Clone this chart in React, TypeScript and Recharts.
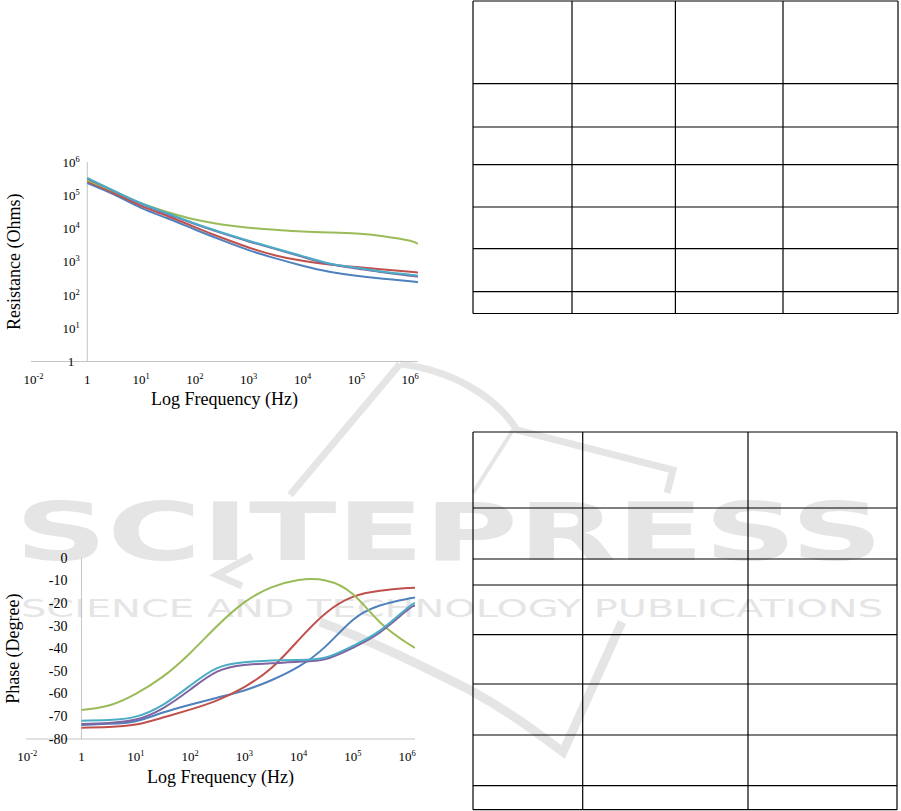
import React from "react";
import { LineChart, Line, XAxis, YAxis, ReferenceLine } from "recharts";

// frequency grid (Hz), half-decade steps
const FREQ_HZ = [1, 3.16, 10, 31.6, 100, 316, 1000, 3160, 10000, 31600, 100000, 316000, 1000000, 1400000];

// resistance (Ohms)
const RES_BLUE = [234000, 105000, 41700, 20000, 9330, 4470, 2240, 1260, 759, 501, 380, 309, 257, 240];
const RES_RED = [263000, 115000, 47900, 23400, 11000, 5250, 2690, 1550, 1070, 832, 692, 589, 501, 479];
const RES_GREEN = [282000, 129000, 57500, 30900, 18600, 13200, 10500, 9120, 8130, 7590, 7080, 5890, 4270, 3390];
const RES_PURPLE = [316000, 132000, 55000, 26900, 13500, 7240, 4070, 2400, 1410, 851, 631, 479, 380, 355];
const RES_CYAN = [331000, 135000, 57500, 28200, 14100, 7590, 4270, 2510, 1480, 891, 661, 501, 407, 380];

// phase (degree)
const PHASE_BLUE = [-73.8, -73.3, -72.1, -68.3, -64.8, -61.7, -58.5, -54, -48, -39, -27.3, -20.9, -18, -17.4];
const PHASE_RED = [-75, -74.7, -73.6, -70.5, -67, -62.9, -57, -48.6, -36.2, -24.3, -17.1, -14.4, -13.2, -13];
const PHASE_GREEN = [-67.2, -65.2, -60, -52.4, -42, -30, -19.5, -12.9, -9.6, -9.8, -15.8, -28.3, -37.5, -39.6];
const PHASE_PURPLE = [-73.4, -72.9, -71.4, -66.4, -58.2, -50.2, -47.2, -46.5, -45.8, -44.6, -39.6, -32.8, -23, -21];
const PHASE_CYAN = [-71.9, -71.6, -70.1, -64.9, -56.4, -48.6, -46, -45.2, -45, -43.9, -38.8, -32, -22.1, -19.9];

// axis ticks and their labels ([base, superscript])
const FREQ_TICKS = [0.1, 1, 10, 100, 1000, 10000, 100000, 1000000];
const FREQ_TICK_LABELS = [["10", "-2"], ["1", ""], ["10", "1"], ["10", "2"], ["10", "3"], ["10", "4"], ["10", "5"], ["10", "6"]];
const RES_TICKS = [1, 10, 100, 1000, 10000, 100000, 1000000];
const RES_TICK_LABELS = [["1", ""], ["10", "1"], ["10", "2"], ["10", "3"], ["10", "4"], ["10", "5"], ["10", "6"]];
const PHASE_TICKS = [0, -10, -20, -30, -40, -50, -60, -70, -80];

const SERIES = [
  { key: "blue", color: "#4F81BD" },
  { key: "red", color: "#C0504D" },
  { key: "green", color: "#9BBB59" },
  { key: "purple", color: "#8064A2" },
  { key: "cyan", color: "#4BACC6" },
];

// empty tables on the right
const T1_COL_WIDTHS = [99, 103.4, 107.6, 115];
const T1_ROW_HEIGHTS = [82.6, 43.4, 37.6, 42.4, 41.6, 43, 22];
const T2_COL_WIDTHS = [109.7, 165.3, 149];
const T2_ROW_HEIGHTS = [76, 51, 26, 49.7, 49.3, 51, 50.7, 24];

const SERIF = "'Liberation Serif', 'Times New Roman', serif";
const AXIS_GRAY = "#C4C4C4";
const MARK_GRAY = "#E5E5E5";

const SupText = ({ x, y, anchor, size, label }: any) => (
  <text x={x} y={y} textAnchor={anchor} fontFamily={SERIF} fontSize={size} fill="#000">
    <tspan>{label[0]}</tspan>
    {label[1] ? (
      <tspan fontSize={size * 0.65} dy={-size * 0.38}>
        {label[1]}
      </tspan>
    ) : null}
  </text>
);

const FreqTick = (props: any) => {
  const { x, y, payload } = props;
  const i = FREQ_TICKS.indexOf(payload.value);
  if (i < 0) return null;
  return <SupText x={x} y={y + 22} anchor="middle" size={13} label={FREQ_TICK_LABELS[i]} />;
};

const ResTick = (props: any) => {
  const { y, payload, labelX } = props;
  const i = RES_TICKS.indexOf(payload.value);
  if (i < 0) return null;
  return <SupText x={labelX} y={y + 4.5} anchor="middle" size={13} label={RES_TICK_LABELS[i]} />;
};

const PhaseTick = (props: any) => {
  const { y, payload, labelX } = props;
  return (
    <text x={labelX} y={y + 4.5} textAnchor="end" fontFamily={SERIF} fontSize={14} fill="#000">
      {payload.value}
    </text>
  );
};

const XTitle = ({ viewBox, dy }: any) => (
  <text x={viewBox.x + viewBox.width / 2} y={viewBox.y + dy} textAnchor="middle" fontFamily={SERIF} fontSize={18} fill="#000">
    Log Frequency (Hz)
  </text>
);

const YTitle = ({ viewBox, text, bx }: any) => {
  const cy = viewBox.y + viewBox.height / 2;
  return (
    <text x={bx} y={cy} transform={`rotate(-90 ${bx} ${cy})`} textAnchor="middle" fontFamily={SERIF} fontSize={18} fill="#000">
      {text}
    </text>
  );
};

const GridTable = ({ left, top, widths, heights }: any) => {
  const xs = [0];
  widths.forEach((w: number) => xs.push(xs[xs.length - 1] + w));
  const ys = [0];
  heights.forEach((h: number) => ys.push(ys[ys.length - 1] + h));
  const W = xs[xs.length - 1];
  const H = ys[ys.length - 1];
  return (
    <svg width={W + 2} height={H + 2} style={{ position: "absolute", left: left - 1, top: top - 1 }}>
      <g transform="translate(1,1)" stroke="#000" strokeWidth={1.2}>
        {xs.map((x, i) => (
          <line key={"v" + i} x1={x} y1={0} x2={x} y2={H} />
        ))}
        {ys.map((y, i) => (
          <line key={"h" + i} x1={0} y1={y} x2={W} y2={y} />
        ))}
      </g>
    </svg>
  );
};

// publisher watermark behind everything
const Watermark = () => (
  <svg width={901} height={811} style={{ position: "absolute", left: 0, top: 0 }}>
    <g fill="none" stroke={MARK_GRAY} strokeWidth={7}>
      <path d="M 290 495 L 400 364" />
      <path d="M 400 364 C 450 370, 495 395, 517 430 L 673 470 L 667 493" />
      <path d="M 513 430 L 473 493" strokeWidth={4} />
      <path d="M 252 556 L 217 575 L 242 586" />
      <path d="M 320 622 C 370 640, 420 665, 470 690 C 510 712, 540 735, 563 752 L 622 622" strokeWidth={9} />
    </g>
    <text x={15} y={560} textLength={868} lengthAdjust="spacingAndGlyphs" fontFamily="'DejaVu Sans', sans-serif" fontWeight="bold" fontSize={80} fill={MARK_GRAY}>
      SCITEPRESS
    </text>
    <text x={21} y={617} textLength={862} lengthAdjust="spacingAndGlyphs" fontFamily="'DejaVu Sans', sans-serif" fontSize={25} fill={MARK_GRAY}>
      SCIENCE AND TECHNOLOGY PUBLICATIONS
    </text>
  </svg>
);

export default function App() {
  const resData = FREQ_HZ.map((f, i) => ({
    f,
    blue: RES_BLUE[i],
    red: RES_RED[i],
    green: RES_GREEN[i],
    purple: RES_PURPLE[i],
    cyan: RES_CYAN[i],
  }));
  const phaseData = FREQ_HZ.map((f, i) => ({
    f,
    blue: PHASE_BLUE[i],
    red: PHASE_RED[i],
    green: PHASE_GREEN[i],
    purple: PHASE_PURPLE[i],
    cyan: PHASE_CYAN[i],
  }));

  return (
    <div style={{ position: "absolute", left: 0, top: 0, width: 901, height: 811, background: "#fff", overflow: "hidden" }}>
      <Watermark />

      <div style={{ position: "absolute", left: 0, top: 140 }}>
        <LineChart width={430} height={280} data={resData} margin={{ top: 22, right: 12, bottom: 0, left: 0 }}>
          <XAxis
            dataKey="f"
            type="number"
            scale="log"
            domain={[0.09, 1400000]}
            allowDataOverflow
            ticks={FREQ_TICKS}
            interval={0}
            height={58.5}
            axisLine={{ stroke: AXIS_GRAY, strokeWidth: 1 }}
            tickLine={false}
            tickSize={0}
            tickMargin={0}
            tick={<FreqTick />}
            label={<XTitle dy={43.5} />}
          />
          <YAxis
            type="number"
            scale="log"
            domain={[1, 1000000]}
            allowDataOverflow
            ticks={RES_TICKS}
            interval={0}
            width={31}
            axisLine={false}
            tickLine={false}
            tick={<ResTick labelX={71} />}
            label={<YTitle text="Resistance (Ohms)" bx={19.5} />}
          />
          <ReferenceLine x={1} stroke={AXIS_GRAY} strokeWidth={1} />
          {SERIES.map((s) => (
            <Line key={s.key} type="natural" dataKey={s.key} stroke={s.color} strokeWidth={2} dot={false} activeDot={false} isAnimationActive={false} />
          ))}
        </LineChart>
      </div>

      <div style={{ position: "absolute", left: 0, top: 540 }}>
        <LineChart width={430} height={260} data={phaseData} margin={{ top: 18.3, right: 15, bottom: 0, left: 0 }}>
          <XAxis
            dataKey="f"
            type="number"
            scale="log"
            domain={[0.095, 1400000]}
            allowDataOverflow
            ticks={FREQ_TICKS}
            interval={0}
            height={61}
            axisLine={{ stroke: AXIS_GRAY, strokeWidth: 1 }}
            tickLine={false}
            tickSize={0}
            tickMargin={0}
            tick={<FreqTick />}
            label={<XTitle dy={43.7} />}
          />
          <YAxis
            type="number"
            domain={[-80, 0]}
            allowDataOverflow
            ticks={PHASE_TICKS}
            interval={0}
            width={26}
            axisLine={false}
            tickLine={false}
            tick={<PhaseTick labelX={67.5} />}
            label={<YTitle text="Phase (Degree)" bx={19.3} />}
          />
          <ReferenceLine x={1} stroke={AXIS_GRAY} strokeWidth={1} />
          {SERIES.map((s) => (
            <Line key={s.key} type="natural" dataKey={s.key} stroke={s.color} strokeWidth={2} dot={false} activeDot={false} isAnimationActive={false} />
          ))}
        </LineChart>
      </div>

      <GridTable left={473.3} top={0.7} widths={T1_COL_WIDTHS} heights={T1_ROW_HEIGHTS} />
      <GridTable left={473.3} top={432.3} widths={T2_COL_WIDTHS} heights={T2_ROW_HEIGHTS} />
    </div>
  );
}
